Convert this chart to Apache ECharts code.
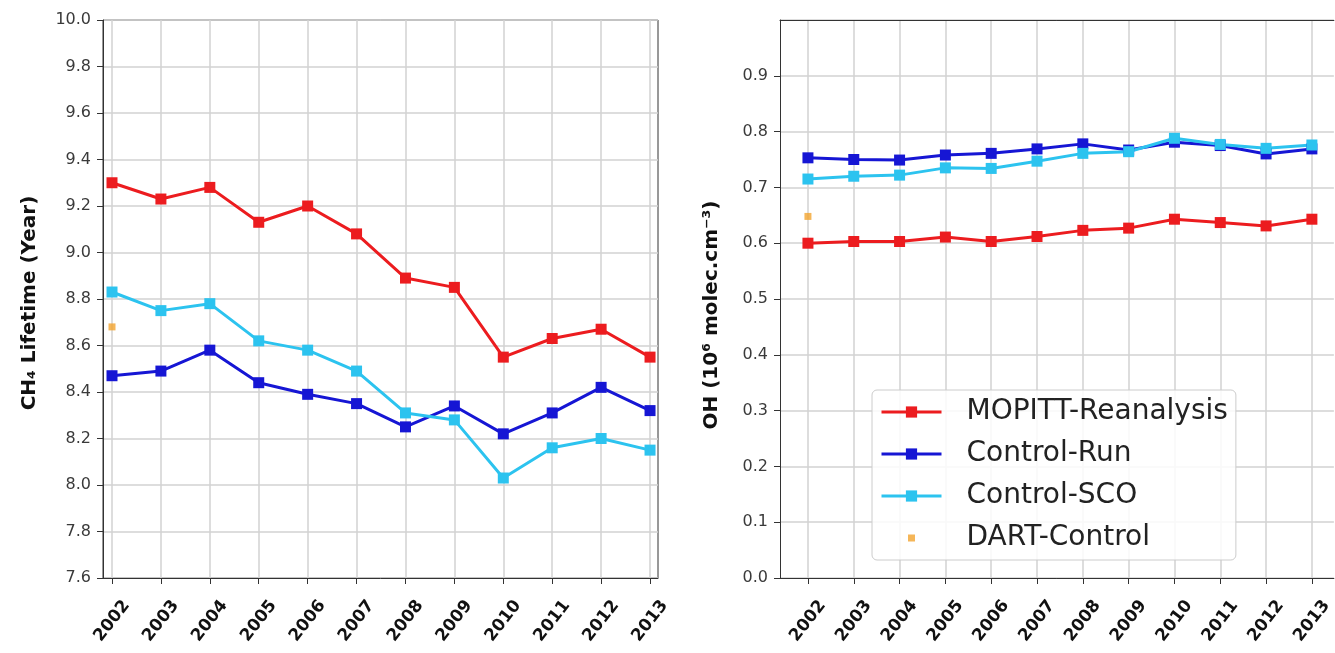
<!DOCTYPE html>
<html>
<head>
<meta charset="utf-8">
<script src="https://cdn.jsdelivr.net/npm/echarts@6/dist/echarts.min.js"></script>
<style>
  html, body { margin: 0; padding: 0; background: #fff; }
  #main { width: 1335px; height: 653px; }
</style>
</head>
<body>
<div id="main"></div>
<script>
// years on both panels
const years = [2002, 2003, 2004, 2005, 2006, 2007, 2008, 2009, 2010, 2011, 2012, 2013];

// CH4 lifetime (year), left panel
const mopittLife = [9.30, 9.23, 9.28, 9.13, 9.20, 9.08, 8.89, 8.85, 8.55, 8.63, 8.67, 8.55];
const runLife = [8.47, 8.49, 8.58, 8.44, 8.39, 8.35, 8.25, 8.34, 8.22, 8.31, 8.42, 8.32];
const scoLife = [8.83, 8.75, 8.78, 8.62, 8.58, 8.49, 8.31, 8.28, 8.03, 8.16, 8.20, 8.15];
const dartLife = [8.68];

// OH (1e6 molec/cm3), right panel
const mopittOH = [0.600, 0.603, 0.603, 0.611, 0.603, 0.612, 0.623, 0.627, 0.643, 0.637, 0.631, 0.643];
const runOH = [0.753, 0.750, 0.749, 0.758, 0.761, 0.769, 0.778, 0.767, 0.781, 0.775, 0.760, 0.769];
const scoOH = [0.715, 0.720, 0.722, 0.735, 0.734, 0.747, 0.761, 0.764, 0.788, 0.777, 0.770, 0.776];
const dartOH = [0.648];

const names = ["MOPITT-Reanalysis", "Control-Run", "Control-SCO", "DART-Control"];
const colors = ["#ec1c1f", "#1616d4", "#2cc3ef", "#f2a42e"];

const pairs = vals => vals.map((v, i) => [years[i], v]);

function xAxisOf(gridIndex, min, max) {
  return {
    type: "value",
    gridIndex,
    min,
    max,
    axisLine: { show: true, onZero: false, lineStyle: { color: "#333", width: 1 } },
    axisTick: { show: true, customValues: years, length: 6, lineStyle: { color: "#333" } },
    axisLabel: {
      customValues: years,
      rotate: 52,
      align: "center",
      verticalAlign: "middle",
      margin: 43,
      fontSize: 17,
      fontWeight: "bold",
      color: "#111",
      fontFamily: "DejaVu Sans",
      formatter: v => String(Math.round(v))
    },
    splitLine: { show: true, lineStyle: { color: "#d2d2d2", width: 1.5 } }
  };
}

// top edge of the right panel (its right edge lies outside the picture)
function topEdgeOf(gridIndex, min, max) {
  return {
    type: "value",
    gridIndex,
    position: "top",
    min,
    max,
    axisLine: { show: true, onZero: false, lineStyle: { color: "#333", width: 1 } },
    axisTick: { show: false },
    axisLabel: { show: false },
    splitLine: { show: false }
  };
}

function yAxisOf(gridIndex, min, max, interval, name, nameGap, namePad, hideTop) {
  return {
    type: "value",
    gridIndex,
    min,
    max,
    interval,
    name,
    nameLocation: "middle",
    nameRotate: 90,
    nameGap,
    nameTextStyle: {
      fontSize: 20,
      fontWeight: "bold",
      color: "#111",
      fontFamily: "DejaVu Sans",
      padding: [0, namePad, 0, 0]
    },
    axisLine: { show: true, lineStyle: { color: "#333", width: 1 } },
    axisTick: { show: true, length: 6, lineStyle: { color: "#333" } },
    axisLabel: {
      fontSize: 16,
      color: "#3a3a3a",
      margin: 12,
      fontFamily: "DejaVu Sans",
      showMaxLabel: !hideTop,
      formatter: v => v.toFixed(1)
    },
    splitLine: { show: true, lineStyle: { color: "#d2d2d2", width: 1.5 } }
  };
}

function lineSeries(idx, name, vals, color) {
  return {
    name,
    type: "line",
    xAxisIndex: idx,
    yAxisIndex: idx,
    data: pairs(vals),
    symbol: "rect",
    symbolSize: 11,
    lineStyle: { width: 3, color },
    itemStyle: { color },
    emphasis: { disabled: true },
    animation: false
  };
}

function dartSeries(idx, vals) {
  return {
    name: names[3],
    type: "scatter",
    xAxisIndex: idx,
    yAxisIndex: idx,
    data: pairs(vals),
    symbol: "rect",
    symbolSize: 7,
    itemStyle: { color: colors[3] },
    animation: false
  };
}

const chart = echarts.init(document.getElementById("main"), null, { renderer: "canvas" });

chart.setOption({
  backgroundColor: "#fff",
  animation: false,
  textStyle: { fontFamily: "DejaVu Sans" },
  grid: [
    { left: 103, top: 20, width: 555, height: 558, show: true, borderColor: "#333", borderWidth: 1, containLabel: false },
    { left: 780, top: 20, width: 555, height: 558, show: false, containLabel: false }
  ],
  xAxis: [
    xAxisOf(0, 2001.816, 2013.163),
    xAxisOf(1, 2001.39, 2013.48),
    topEdgeOf(1, 2001.39, 2013.48)
  ],
  yAxis: [
    yAxisOf(0, 7.6, 10.0, 0.2, "CH\u2084 Lifetime (Year)", 63, 8, false),
    yAxisOf(1, 0, 1.0, 0.1, "OH (10\u2076 molec.cm\u207B\u00B3)", 58, 32, true)
  ],
  legend: {
    left: 872,
    top: 390,
    orient: "vertical",
    data: [
      { name: names[0] },
      { name: names[1] },
      { name: names[2] },
      { name: names[3], icon: "path://M0,0M14,14M3.5,3.5h7v7h-7z" }
    ],
    itemWidth: 60,
    itemHeight: 14,
    itemGap: 14,
    padding: [8, 8, 8, 8],
    backgroundColor: "rgba(255,255,255,0.85)",
    borderColor: "#cccccc",
    borderWidth: 1,
    borderRadius: 5,
    selectedMode: false,
    lineStyle: { width: 3 },
    textStyle: { fontSize: 28, color: "#222", fontFamily: "DejaVu Sans", padding: [0, 0, 0, 20] }
  },
  series: [
    lineSeries(0, names[0], mopittLife, colors[0]),
    lineSeries(0, names[1], runLife, colors[1]),
    lineSeries(0, names[2], scoLife, colors[2]),
    dartSeries(0, dartLife),
    lineSeries(1, names[0], mopittOH, colors[0]),
    lineSeries(1, names[1], runOH, colors[1]),
    lineSeries(1, names[2], scoOH, colors[2]),
    dartSeries(1, dartOH)
  ]
});
</script>
</body>
</html>
